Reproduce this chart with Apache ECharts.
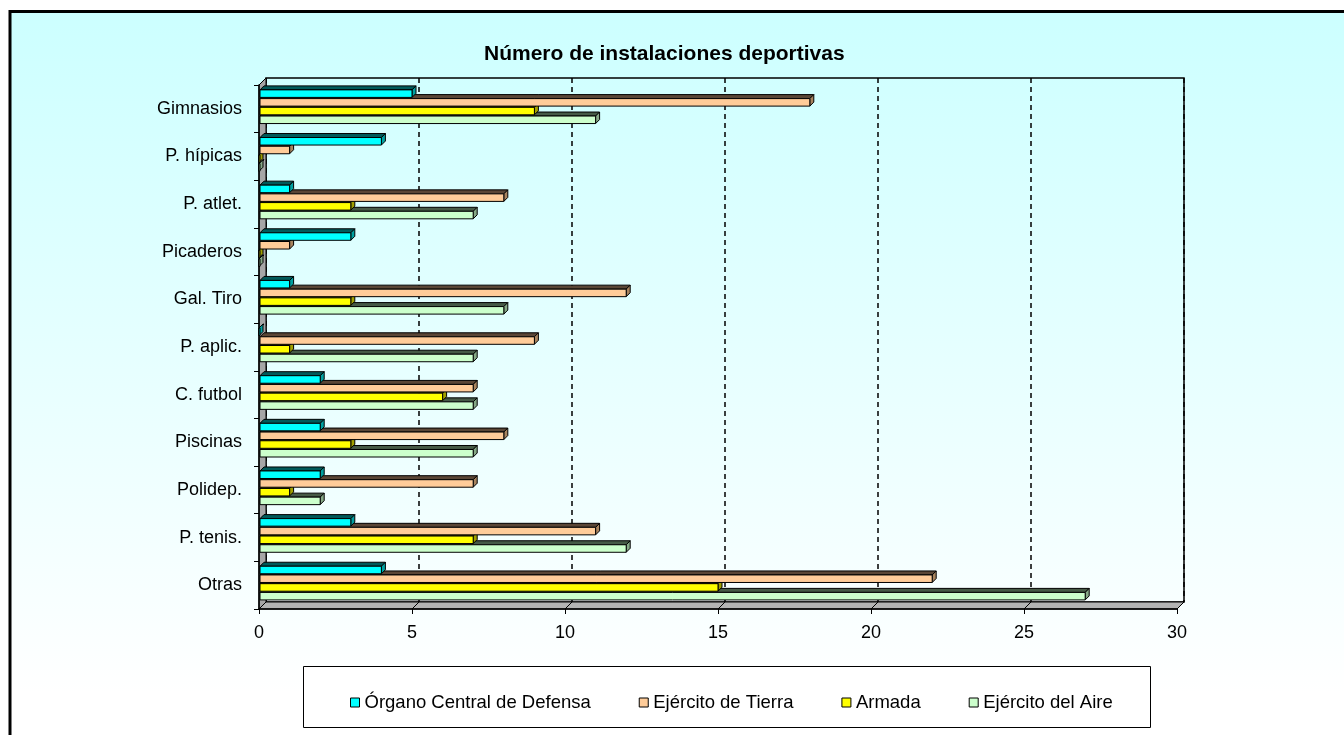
<!DOCTYPE html>
<html>
<head>
<meta charset="utf-8">
<script src="https://cdn.jsdelivr.net/npm/echarts@6/dist/echarts.min.js"></script>
<style>
  html, body { margin: 0; padding: 0; background: #fff; }
  #main { width: 1344px; height: 735px; }
</style>
</head>
<body>
<div id="main"></div>
<script>
// categories, top to bottom
var categories = ['Gimnasios', 'P. hípicas', 'P. atlet.', 'Picaderos', 'Gal. Tiro',
    'P. aplic.', 'C. futbol', 'Piscinas', 'Polidep.', 'P. tenis.', 'Otras'];
var seriesNames = ['Órgano Central de Defensa', 'Ejército de Tierra', 'Armada', 'Ejército del Aire'];
var organoCentral = [5, 4, 1, 3, 1, 0, 2, 2, 2, 3, 4];
var ejercitoTierra = [18, 1, 8, 1, 12, 9, 7, 8, 7, 11, 22];
var armada = [9, 0, 3, 0, 3, 1, 6, 3, 1, 7, 15];
var ejercitoAire = [11, 0, 7, 0, 8, 7, 7, 7, 2, 12, 27];
var xTicks = [0, 5, 10, 15, 20, 25, 30];

// front face, top face, right face
var colors = [
    ['#00FFFF', '#005a5a', '#00a0a0'],
    ['#FFCC99', '#5a4636', '#a8845f'],
    ['#FFFF00', '#5a5a00', '#a0a000'],
    ['#CCFFCC', '#465a46', '#86a886']
];
var allData = [organoCentral, ejercitoTierra, armada, ejercitoAire];

// plot geometry (front plane + back wall offset)
var G = { left: 259, top: 85, width: 918, height: 524 };
var D = 7; // depth of the 3d walls
var BAR_D = 4; // depth of the bars
var font = 'Liberation Sans, Arial, sans-serif';

function makeRender(si) {
    return function (params, api) {
        var cat = api.value(0);
        var val = api.value(1);
        var p0 = api.coord([0, cat]);
        var p1 = api.coord([val, cat]);
        var band = api.size([0, 1])[1];
        var pitch = band * 0.183;
        var y = p0[1] - 2 * pitch - 1.5 + si * pitch;
        var h = pitch - 1.2;
        var x0 = p0[0] + 1, x1 = p1[0];
        var c = colors[si];
        var st = { stroke: '#000', lineWidth: 1 };
        return {
            type: 'group',
            children: [
                { type: 'polygon', shape: { points: [[x0, y], [x0 + BAR_D, y - BAR_D], [x1 + BAR_D, y - BAR_D], [x1, y]] },
                  style: Object.assign({ fill: c[1] }, st) },
                { type: 'polygon', shape: { points: [[x1, y], [x1 + BAR_D, y - BAR_D], [x1 + BAR_D, y + h - BAR_D], [x1, y + h]] },
                  style: Object.assign({ fill: c[2] }, st) },
                { type: 'rect', shape: { x: x0, y: y, width: x1 - x0, height: h },
                  style: Object.assign({ fill: c[0] }, st) }
            ]
        };
    };
}

var series = seriesNames.map(function (name, si) {
    return {
        name: name,
        type: 'custom',
        xAxisIndex: 0,
        yAxisIndex: 0,
        z: 10 - si,
        itemStyle: { color: colors[si][0] },
        encode: { x: 1, y: 0 },
        renderItem: makeRender(si),
        data: allData[si].map(function (v, i) { return [i, v]; })
    };
});

// walls: left wall, floor, floor diagonals
var bottom = G.top + G.height;
var right = G.left + G.width;
var graphics = [
    { type: 'rect', z: -10, shape: { x: 10, y: 11.5, width: 1400, height: 800 },
      style: { fill: new echarts.graphic.LinearGradient(0, 0, 0, 1, [
          { offset: 0, color: '#CCFFFF' }, { offset: 0.85, color: '#FFFFFF' }, { offset: 1, color: '#FFFFFF' }]),
          stroke: '#000', lineWidth: 3 } },
    { type: 'polygon', z: 1, shape: { points: [[G.left, G.top], [G.left + D, G.top - D], [G.left + D, bottom - D], [G.left, bottom]] },
      style: { fill: '#A6A6A6', stroke: '#000', lineWidth: 1 } },
    { type: 'polygon', z: 1, shape: { points: [[G.left, bottom], [G.left + D, bottom - D], [right + D, bottom - D], [right, bottom]] },
      style: { fill: '#B4B4B4', stroke: '#000', lineWidth: 1 } },
    { type: 'rect', z: 0, shape: { x: 303.5, y: 666.5, width: 847, height: 61 },
      style: { fill: '#FFFFFF', stroke: '#000', lineWidth: 1 } },
    { type: 'text', z: 5, left: 484, top: 44,
      style: { text: 'Número de instalaciones deportivas', x: 0, fill: '#000',
          font: 'bold 21px ' + font } }
];
xTicks.forEach(function (t) {
    var x = G.left + G.width * t / 30;
    graphics.push({ type: 'line', z: 2, shape: { x1: x, y1: bottom, x2: x + D, y2: bottom - D },
        style: { stroke: '#000', lineWidth: 1 } });
});

var option = {
    animation: false,
    legend: {
        data: seriesNames,
        left: 345,
        top: 688,
        itemGap: 48,
        itemWidth: 9,
        itemHeight: 9,
        icon: 'rect',
        itemStyle: { borderColor: '#000', borderWidth: 1 },
        textStyle: { fontFamily: font, fontSize: 18.5, color: '#000' }
    },
    graphic: graphics,
    grid: [
        { left: G.left, top: G.top, width: G.width, height: G.height },
        { left: G.left + D, top: G.top - D, width: G.width, height: G.height,
          show: true, borderColor: '#000', borderWidth: 1.5, backgroundColor: 'transparent', z: -1 }
    ],
    xAxis: [
        { type: 'value', gridIndex: 0, min: 0, max: 30, interval: 5, z: 6,
          axisLine: { show: true, lineStyle: { color: '#000', width: 1.5 } },
          axisTick: { show: true, length: 5, lineStyle: { color: '#000' } },
          axisLabel: { fontFamily: font, fontSize: 18, color: '#000', margin: 15 },
          splitLine: { show: false } },
        { type: 'value', gridIndex: 1, min: 0, max: 30, interval: 5,
          axisLine: { show: false }, axisTick: { show: false }, axisLabel: { show: false },
          splitLine: { show: true, lineStyle: { color: '#000', width: 1.5, type: [5, 4] } } }
    ],
    yAxis: [
        { type: 'category', gridIndex: 0, data: categories, inverse: true, z: 6,
          axisLine: { show: true, lineStyle: { color: '#000', width: 1.5 } },
          axisTick: { show: true, length: 5, interval: 0, lineStyle: { color: '#000' } },
          axisLabel: { fontFamily: font, fontSize: 18, color: '#000', margin: 17, interval: 0 },
          splitLine: { show: false } },
        { type: 'category', gridIndex: 1, data: categories, inverse: true, show: false }
    ],
    series: series
};

var myChart = echarts.init(document.getElementById('main'));
myChart.setOption(option);
</script>
</body>
</html>
